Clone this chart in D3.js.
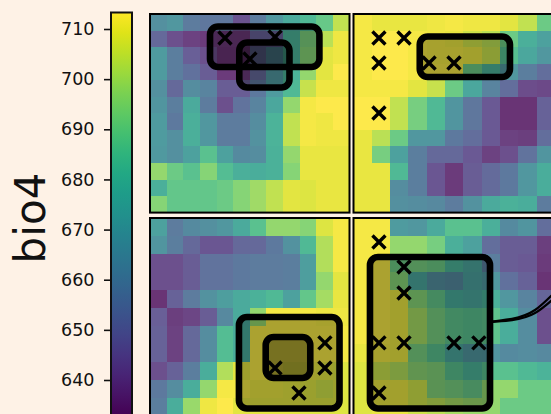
<!DOCTYPE html>
<html>
<head>
<meta charset="utf-8">
<script src="https://cdn.jsdelivr.net/npm/d3@7"></script>
<style>
  html, body { margin: 0; padding: 0; background: #fef2e6; overflow: hidden; }
  svg { display: block; }
</style>
</head>
<body>
<svg id="chart"></svg>
<script>
var colorbarTicks = [640, 650, 660, 670, 680, 690, 700, 710];
var colorLabel = "bio4";

var valuesTopLeft = [
  [665,668,657,655,655,643,657,668,676,682,689,704],
  [650,642,638,636,635,635,648,648,680,693,703,711],
  [670,658,647,642,634,634,650,664,680,695,709,711],
  [670,658,653,646,636,636,650,668,680,697,709,713],
  [665,650,664,660,646,646,656,670,682,705,711,711],
  [667,658,676,657,642,654,660,675,697,712,713,713],
  [670,656,678,668,657,657,664,680,704,712,711,713],
  [670,665,678,668,657,657,666,680,704,712,711,711],
  [669,665,672,686,672,663,664,679,697,710,710,710],
  [697,690,686,695,684,678,677,679,695,710,710,710],
  [678,688,688,688,690,695,699,704,709,708,710,710],
  [695,688,688,688,690,695,699,704,709,708,710,710]
];
var valuesTopRight = [
  [712,710,710,710,711,712,711,711,709,704,690],
  [712,713,713,712,711,710,706,703,690,678,672],
  [712,713,713,712,711,711,710,705,685,675,668],
  [712,713,713,712,712,712,690,680,668,658,652],
  [712,712,712,709,705,690,675,660,652,641,640],
  [713,713,704,692,682,667,655,645,634,634,648],
  [713,713,704,692,682,667,655,645,634,634,648],
  [710,703,690,668,668,656,652,645,638,637,652],
  [710,692,672,658,650,650,645,638,642,654,667],
  [710,710,682,658,644,636,646,651,656,668,677],
  [710,710,664,658,644,636,646,651,656,668,677],
  [710,710,665,664,662,657,666,676,679,677,657]
];
var valuesBottomLeft = [
  [672,657,663,665,668,676,686,697,697,695,708,712],
  [667,658,650,644,644,650,650,656,666,682,702,712],
  [642,642,646,654,654,656,657,657,658,671,702,712],
  [642,642,646,654,654,656,657,657,658,671,697,709],
  [634,648,657,666,671,676,679,682,672,688,700,710],
  [647,637,639,646,662,676,697,712,712,712,711,711],
  [648,638,650,664,684,677,712,712,712,712,712,712],
  [648,638,650,664,684,677,712,712,712,712,712,712],
  [642,648,658,677,702,709,712,712,710,710,709,708],
  [656,664,677,697,712,712,710,710,709,708,706,708],
  [658,677,698,711,713,709,709,709,709,708,708,708]
];
var valuesBottomRight = [
  [712,712,670,668,676,686,686,678,663,667,652],
  [712,712,697,697,692,678,672,652,646,646,637],
  [712,712,690,692,690,680,674,658,646,645,636],
  [712,712,695,675,665,663,672,668,653,648,634],
  [712,712,710,695,688,677,675,679,668,660,649],
  [712,712,710,700,692,687,686,687,677,664,642],
  [712,712,710,700,692,687,686,687,677,664,642],
  [710,711,710,692,686,675,668,667,663,664,662],
  [708,705,702,696,694,686,680,686,686,682,680],
  [708,710,710,706,694,692,689,697,697,690,690],
  [708,710,710,706,703,700,698,697,690,690,690]
];

// cross markers, in cell units of each panel
var crossesTopLeft = [[4.51,1.45],[7.52,1.39],[6.01,2.72]];
var crossesTopRight = [[1.39,1.45],[2.76,1.45],[1.39,2.96],[4.13,2.96],[5.49,2.96],[1.39,5.98]];
var crossesBottomLeft = [[7.52,8.33],[10.52,6.94],[10.52,8.33],[8.96,9.72]];
var crossesBottomRight = [[1.39,1.33],[2.76,2.72],[2.76,4.17],[1.39,6.94],[2.76,6.94],[5.49,6.94],[6.85,6.94],[1.39,9.72]];

// boxes: x0, x1, y0, y1 in cell units
var boxesTopLeft = [[3.61,10.19,0.755,3.2],[5.37,8.39,1.72,4.44]];
var boxesTopRight = [[3.62,8.55,1.36,3.81]];
var boxesBottomLeft = [[5.35,11.4,5.5,10.58],[6.96,9.64,6.61,8.89]];
var boxesBottomRight = [[0.9,7.46,2.17,10.58]];

var connectorA = [[7.46,5.78],[8.66,5.67],[9.92,5.28],[11.28,4.17]];
var connectorB = [[7.46,5.76],[8.66,5.6],[9.92,5.11],[11.28,3.83]];

var width = 551;
var height = 414;

var svg = d3.select("#chart")
  .attr("width", width)
  .attr("height", height);

var vmin = 633;
var vmax = 713.3;
var color = d3.scaleSequential(d3.interpolateViridis).domain([vmin, vmax]);

var panels = [
  {values: valuesTopLeft, crosses: crossesTopLeft, boxes: boxesTopLeft, x0: 150, x1: 349.5, y0: 14, y1: 212.6},
  {values: valuesTopRight, crosses: crossesTopRight, boxes: boxesTopRight, x0: 353.5, x1: 554.8, y0: 14, y1: 212.6},
  {values: valuesBottomLeft, crosses: crossesBottomLeft, boxes: boxesBottomLeft, x0: 150, x1: 349.5, y0: 218, y1: 416},
  {values: valuesBottomRight, crosses: crossesBottomRight, boxes: boxesBottomRight, x0: 353.5, x1: 554.8, y0: 218, y1: 416}
];

panels.forEach(function(p)
{
  var nrows = p.values.length;
  var ncols = p.values[0].length;
  p.x = d3.scaleLinear().domain([0, ncols]).range([p.x0, p.x1]);
  p.y = d3.scaleLinear().domain([0, nrows]).range([p.y0, p.y1]);

  var g = svg.append("g");
  // opacity on the group, so the small overlaps between cells do not show
  var cells = g.append("g")
    .attr("opacity", 0.8)
    .attr("shape-rendering", "crispEdges");

  p.values.forEach(function(row, r)
  {
    cells.selectAll(null)
      .data(row)
      .enter()
      .append("rect")
      .attr("x", function(d, i) { return p.x(i); })
      .attr("y", p.y(r))
      .attr("width", p.x(1) - p.x(0) + 0.5)
      .attr("height", p.y(1) - p.y(0) + 0.5)
      .attr("fill", function(d) { return color(d); });
  });

  g.append("rect")
    .attr("x", p.x0)
    .attr("y", p.y0)
    .attr("width", p.x1 - p.x0)
    .attr("height", p.y1 - p.y0)
    .attr("fill", "none")
    .attr("stroke", "black")
    .attr("stroke-width", 2);
});

// crosses go under the boxes
panels.forEach(function(p)
{
  var s = 6.5;
  svg.append("g").selectAll("path")
    .data(p.crosses)
    .enter()
    .append("path")
    .attr("d", function(d)
    {
      var cx = p.x(d[0]);
      var cy = p.y(d[1]);
      return "M" + (cx - s) + "," + (cy - s) + "L" + (cx + s) + "," + (cy + s) +
             "M" + (cx - s) + "," + (cy + s) + "L" + (cx + s) + "," + (cy - s);
    })
    .attr("stroke", "black")
    .attr("stroke-width", 3.4)
    .attr("fill", "none");
});

panels.forEach(function(p)
{
  svg.append("g").selectAll("rect")
    .data(p.boxes)
    .enter()
    .append("rect")
    .attr("x", function(d) { return p.x(d[0]); })
    .attr("y", function(d) { return p.y(d[2]); })
    .attr("width", function(d) { return p.x(d[1]) - p.x(d[0]); })
    .attr("height", function(d) { return p.y(d[3]) - p.y(d[2]); })
    .attr("rx", 8)
    .attr("ry", 8)
    .attr("fill", "black")
    .attr("fill-opacity", 0.3)
    .attr("stroke", "black")
    .attr("stroke-width", 6.6);
});

var br = panels[3];
var connector = d3.line()
  .x(function(d) { return br.x(d[0]); })
  .y(function(d) { return br.y(d[1]); })
  .curve(d3.curveNatural);

[connectorA, connectorB].forEach(function(c)
{
  svg.append("path")
    .attr("d", connector(c))
    .attr("fill", "none")
    .attr("stroke", "black")
    .attr("stroke-width", 2.2);
});

// colorbar
var barX = 111;
var barW = 21;
var barTop = 12.5;
var yBar = d3.scaleLinear().domain([710, 640]).range([29, 380]);
var barBottom = yBar(vmin);

var defs = svg.append("defs");
var grad = defs.append("linearGradient")
  .attr("id", "viridis")
  .attr("x1", 0).attr("x2", 0)
  .attr("y1", 1).attr("y2", 0);
d3.range(0, 1.01, 0.05).forEach(function(t)
{
  grad.append("stop")
    .attr("offset", t)
    .attr("stop-color", d3.interpolateViridis(t));
});

svg.append("rect")
  .attr("x", barX)
  .attr("y", barTop)
  .attr("width", barW)
  .attr("height", barBottom - barTop)
  .attr("fill", "url(#viridis)")
  .attr("stroke", "#111")
  .attr("stroke-width", 2);

var axis = d3.axisLeft(yBar)
  .tickValues(colorbarTicks)
  .tickSize(7)
  .tickPadding(9.5);

var axisG = svg.append("g")
  .attr("transform", "translate(" + barX + ",0)")
  .call(axis);
axisG.select(".domain").remove();
axisG.selectAll("line").attr("stroke", "#111").attr("stroke-width", 1.6);
axisG.selectAll("text")
  .attr("font-family", "DejaVu Sans")
  .attr("font-size", "17.5px")
  .attr("fill", "#111");

svg.append("text")
  .text(colorLabel)
  .attr("transform", "translate(45,218) rotate(-90)")
  .attr("text-anchor", "middle")
  .attr("font-family", "DejaVu Sans")
  .attr("font-size", "42px")
  .attr("fill", "#111");
</script>
</body>
</html>
